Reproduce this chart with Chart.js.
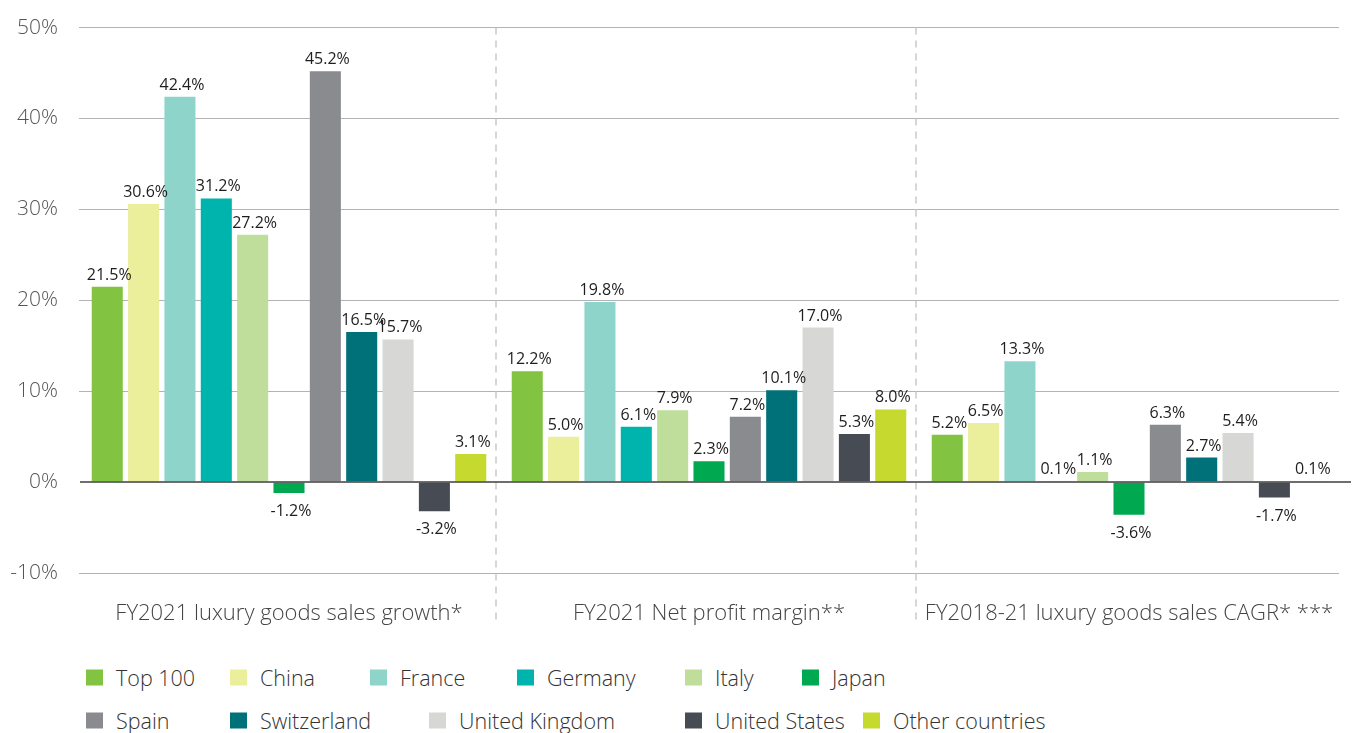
<!DOCTYPE html>
<html lang="en">
<head>
  <meta charset="UTF-8">
  <title>Luxury goods by country</title>
  <style>
    body {
      margin: 0;
      background: #ffffff;
      font-family: "Open Sans", Arial, sans-serif;
    }
    .wrap {
      position: relative;
      width: 1369px;
      height: 733px;
      overflow: hidden;
    }
    .chart-box {
      position: absolute;
      left: 0;
      top: -6px;
      width: 1369px;
      height: 646px;
    }
    .legend-item {
      position: absolute;
      display: flex;
      align-items: center;
      font-size: 21.5px;
      font-weight: 300;
      color: #333;
      white-space: nowrap;
      transform: translateY(-50%);
    }
    .legend-item span.sw {
      display: inline-block;
      width: 17px;
      height: 16px;
      margin-right: 13px;
    }
  </style>
</head>
<body>
  <div class="wrap">
    <div class="chart-box"><canvas id="chart"></canvas></div>
    <div id="legend"></div>
  </div>

  <script src="https://cdn.jsdelivr.net/npm/chart.js"></script>
  <script>
    // data
    const metrics = ['FY2021 luxury goods sales growth*', 'FY2021 Net profit margin**', 'FY2018-21 luxury goods sales CAGR* ***'];
    const countries = ['Top 100', 'China', 'France', 'Germany', 'Italy', 'Japan', 'Spain', 'Switzerland', 'United Kingdom', 'United States', 'Other countries'];
    const salesGrowth = [21.5, 30.6, 42.4, 31.2, 27.2, -1.2, 45.2, 16.5, 15.7, -3.2, 3.1];
    const profitMargin = [12.2, 5.0, 19.8, 6.1, 7.9, 2.3, 7.2, 10.1, 17.0, 5.3, 8.0];
    const salesCagr = [5.2, 6.5, 13.3, 0.1, 1.1, -3.6, 6.3, 2.7, 5.4, -1.7, 0.1];
    const yTicks = [-10, 0, 10, 20, 30, 40, 50];

    const colors = ['#82C341', '#EBEE9A', '#8FD4CA', '#00B4AE', '#BFDE9B', '#00A84F',
                    '#898B8E', '#007079', '#D7D7D6', '#474C54', '#C6D92E'];

    // legend placement (left x, center y) to match the two-row layout
    const legendSlots = [[86, 677], [230, 677], [370, 677], [517, 677], [685, 677], [802, 677],
                         [86, 720], [230, 720], [429, 720], [685, 720], [863, 720]];

    const datasets = countries.map((name, i) => ({
      label: name,
      data: [salesGrowth[i], profitMargin[i], salesCagr[i]],
      backgroundColor: colors[i],
      borderWidth: 0,
      categoryPercentage: 0.952,
      barPercentage: 0.854
    }));

    // dashed separators between groups
    const separators = {
      id: 'separators',
      beforeDatasetsDraw(chart) {
        const { ctx, chartArea, scales } = chart;
        const x = scales.x;
        ctx.save();
        ctx.strokeStyle = '#c9c9c9';
        ctx.lineWidth = 1.5;
        ctx.setLineDash([7, 6]);
        for (let i = 1; i < metrics.length; i++) {
          const px = (x.getPixelForTick(i - 1) + x.getPixelForTick(i)) / 2 - 3;
          ctx.beginPath();
          ctx.moveTo(px, chartArea.top);
          ctx.lineTo(px, chartArea.bottom + 52);
          ctx.stroke();
        }
        ctx.restore();
      }
    };

    // dark zero line over the bars plus value labels
    const zeroAndLabels = {
      id: 'zeroAndLabels',
      afterDatasetsDraw(chart) {
        const { ctx, chartArea, scales } = chart;
        const y0 = scales.y.getPixelForValue(0);
        ctx.save();
        ctx.strokeStyle = 'rgba(85,85,85,0.85)';
        ctx.lineWidth = 2;
        ctx.beginPath();
        ctx.moveTo(chartArea.left + 1, y0);
        ctx.lineTo(chartArea.right + 12, y0);
        ctx.stroke();

        ctx.font = '16px "Open Sans", Arial, sans-serif';
        ctx.fillStyle = '#1e1e1e';
        ctx.textAlign = 'center';
        ctx.textBaseline = 'alphabetic';
        chart.data.datasets.forEach((ds, di) => {
          const meta = chart.getDatasetMeta(di);
          meta.data.forEach((bar, j) => {
            const v = ds.data[j];
            const txt = v.toFixed(1) + '%';
            if (v >= 0) {
              ctx.fillText(txt, bar.x + 2, bar.y - 7);
            } else {
              ctx.fillText(txt, bar.x + 2, bar.y + 23);
            }
          });
        });
        ctx.restore();
      }
    };

    const chart = new Chart(document.getElementById('chart'), {
      type: 'bar',
      data: { labels: metrics, datasets: datasets },
      options: {
        responsive: true,
        maintainAspectRatio: false,
        animation: false,
        layout: { padding: { left: 0, right: 30, top: 20, bottom: 0 } },
        plugins: {
          legend: { display: false },
          tooltip: { enabled: false }
        },
        scales: {
          x: {
            grid: { display: false, drawTicks: false },
            border: { display: false },
            afterFit(scale) {
              scale.height = 67;
            },
            ticks: {
              padding: 28,
              maxRotation: 0,
              color: '#444',
              font: { family: '"Open Sans", Arial, sans-serif', size: 22, weight: 300 }
            }
          },
          y: {
            min: -10,
            max: 50,
            afterBuildTicks(scale) {
              scale.ticks = yTicks.map(v => ({ value: v }));
            },
            afterFit(scale) {
              scale.width = 79;
            },
            grid: {
              drawTicks: false,
              lineWidth: 1,
              color: ctx => ctx.tick && ctx.tick.value === 0 ? 'rgba(0,0,0,0)' : '#b3b3b3'
            },
            border: { display: false },
            ticks: {
              padding: 21,
              color: '#555',
              font: { family: '"Open Sans", Arial, sans-serif', size: 21, weight: 300 },
              callback: v => v + '%'
            }
          }
        }
      },
      plugins: [separators, zeroAndLabels]
    });

    // html legend built from the datasets
    const legend = document.getElementById('legend');
    chart.data.datasets.forEach((ds, i) => {
      const item = document.createElement('div');
      item.className = 'legend-item';
      item.style.left = legendSlots[i][0] + 'px';
      item.style.top = legendSlots[i][1] + 'px';
      const sw = document.createElement('span');
      sw.className = 'sw';
      sw.style.background = ds.backgroundColor;
      item.appendChild(sw);
      item.appendChild(document.createTextNode(ds.label));
      legend.appendChild(item);
    });
  </script>
</body>
</html>
